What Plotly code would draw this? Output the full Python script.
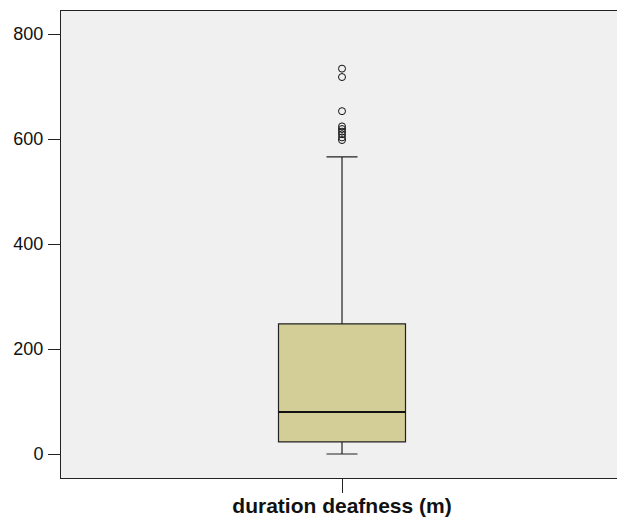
import plotly.graph_objects as go

category = ["duration deafness (m)"]
q1 = [23]
median = [80]
q3 = [248]
lower_fence = [0]
upper_fence = [566]
outliers = [734, 718, 653, 624, 619, 614, 609, 603, 598]
y_ticks = [0, 200, 400, 600, 800]

BOX_W = 0.452

fig = go.Figure()
fig.add_trace(go.Box(
    x=[0], q1=q1, median=median, q3=q3,
    lowerfence=lower_fence, upperfence=upper_fence,
    boxpoints=False, width=BOX_W, whiskerwidth=0.244,
    fillcolor="#D3CE98", line=dict(color="#222222", width=1.2),
    showlegend=False, hoverinfo="y",
))
# thicker median line like the reference
fig.add_trace(go.Scatter(
    x=[-BOX_W / 2, BOX_W / 2], y=[median[0], median[0]], mode="lines",
    line=dict(color="#111111", width=2.2), showlegend=False, hoverinfo="skip",
))
fig.add_trace(go.Scatter(
    x=[0] * len(outliers), y=outliers, mode="markers",
    marker=dict(symbol="circle-open", color="#111111", size=7, line=dict(width=1)),
    showlegend=False,
))

fig.update_layout(
    width=617, height=519,
    margin=dict(l=61, r=0, t=11, b=41),
    paper_bgcolor="white", plot_bgcolor="#F0F0F0",
    font=dict(family="Liberation Sans, Arial, sans-serif", size=18, color="#111111"),
)
fig.update_xaxes(
    range=[-1, 0.9786], tickvals=[0], ticktext=["<b>" + category[0] + "</b>"],
    ticks="outside", ticklen=14, tickcolor="#222222", tickwidth=1,
    showline=True, linecolor="#222222", linewidth=1, mirror=True,
    showgrid=False, zeroline=False, tickfont=dict(size=21, color="#111111"),
    automargin=False, ticklabelstandoff=-5,
)
fig.update_yaxes(
    range=[-45.7, 843.8], tickvals=y_ticks,
    ticks="outside", ticklen=12, tickcolor="#222222", tickwidth=1,
    showline=True, linecolor="#222222", linewidth=1,
    showgrid=False, zeroline=False, tickfont=dict(size=18), ticklabelstandoff=1,
    automargin=False,
)
fig.write_html("out.html", config={"displayModeBar": False},
               post_script="document.body.style.margin='0';document.body.style.padding='0';")
